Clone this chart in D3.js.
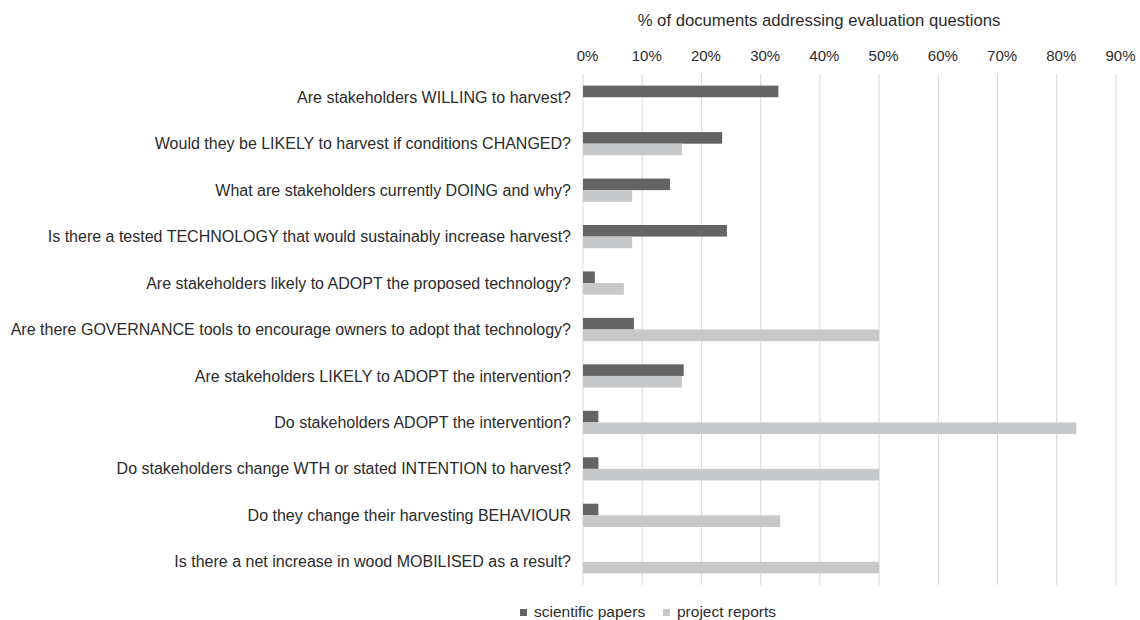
<!DOCTYPE html>
<html lang="en">
<head>
  <meta charset="UTF-8">
  <title>evaluation questions</title>
  <style>
    body { margin: 0; background: #fff; }
    svg { display: block; font-family: "Liberation Sans", Arial, sans-serif; }
  </style>
</head>
<body>
  <div class="chart"></div>
  <script src="https://cdnjs.cloudflare.com/ajax/libs/d3/7.8.5/d3.min.js"></script>
  <script>
    const questions = [
      "Are stakeholders WILLING to harvest?",
      "Would they be LIKELY to harvest if conditions CHANGED?",
      "What are stakeholders currently DOING and why?",
      "Is there a tested TECHNOLOGY that would sustainably increase harvest?",
      "Are stakeholders likely to ADOPT the proposed technology?",
      "Are there GOVERNANCE tools to encourage owners to adopt that technology?",
      "Are stakeholders LIKELY to ADOPT the intervention?",
      "Do stakeholders ADOPT the intervention?",
      "Do stakeholders change WTH or stated INTENTION to harvest?",
      "Do they change their harvesting BEHAVIOUR",
      "Is there a net increase in wood MOBILISED as a result?"
    ];
    const scientificPapers = [33.0, 23.5, 14.7, 24.3, 2.0, 8.6, 17.0, 2.6, 2.6, 2.6, 0];
    const projectReports   = [0, 16.7, 8.3, 8.3, 6.9, 50.0, 16.7, 83.3, 50.0, 33.3, 50.0];
    const seriesNames = ["scientific papers", "project reports"];
    const seriesColors = ["#646464", "#c7c8c9"];
    const ticks = [0, 10, 20, 30, 40, 50, 60, 70, 80, 90];

    const width = 1140, height = 620;
    const plotLeft = 583, plotRight = 1116, plotTop = 74, plotBottom = 585;
    const textColor = '#2b2b2b';

    const svg = d3.select('.chart').append('svg')
      .attr('width', width)
      .attr('height', height);

    const x = d3.scaleLinear().domain([0, 90]).range([plotLeft, plotRight]);
    const y = d3.scaleBand().domain(questions).range([plotTop, plotBottom]).paddingInner(0.5).paddingOuter(0.25);
    const ySub = d3.scaleBand().domain(seriesNames).range([0, y.bandwidth()]);

    // gridlines
    svg.append('g')
      .selectAll('line')
      .data(ticks)
      .join('line')
      .attr('x1', d => x(d)).attr('x2', d => x(d))
      .attr('y1', plotTop).attr('y2', plotBottom)
      .attr('stroke', '#d9d9d9')
      .attr('stroke-width', 1);

    // top axis labels
    const axis = svg.append('g')
      .attr('transform', `translate(4,${plotTop - 13})`)
      .call(d3.axisTop(x).tickValues(ticks).tickFormat(d => d + '%').tickSize(0).tickPadding(0));
    axis.select('.domain').remove();
    axis.selectAll('text')
      .attr('font-size', 15)
      .attr('fill', textColor)
      .attr('font-family', '"Liberation Sans", Arial, sans-serif');

    svg.append('text')
      .attr('x', 819)
      .attr('y', 26)
      .attr('text-anchor', 'middle')
      .attr('font-size', 16.7)
      .attr('fill', textColor)
      .text('% of documents addressing evaluation questions');

    // category labels
    svg.append('g')
      .selectAll('text')
      .data(questions)
      .join('text')
      .attr('x', plotLeft - 12)
      .attr('y', d => y(d) + y.bandwidth() / 2)
      .attr('dy', '0.35em')
      .attr('text-anchor', 'end')
      .attr('font-size', 16)
      .attr('fill', textColor)
      .text(d => d);

    const rows = questions.map((q, i) => ({ q, values: [scientificPapers[i], projectReports[i]] }));

    svg.append('g')
      .selectAll('g')
      .data(rows)
      .join('g')
      .attr('transform', d => `translate(0,${y(d.q)})`)
      .selectAll('rect')
      .data(d => d.values.map((v, i) => ({ v, i })))
      .join('rect')
      .attr('x', x(0))
      .attr('y', d => ySub(seriesNames[d.i]))
      .attr('width', d => x(d.v) - x(0))
      .attr('height', ySub.bandwidth())
      .attr('fill', d => seriesColors[d.i]);

    // legend
    const legend = svg.append('g').attr('transform', 'translate(520,612)');
    const legendX = [0, 143];
    seriesNames.forEach((name, i) => {
      legend.append('rect')
        .attr('x', legendX[i]).attr('y', -3)
        .attr('width', 7).attr('height', 7)
        .attr('fill', seriesColors[i]);
      legend.append('text')
        .attr('x', legendX[i] + 14).attr('y', 0)
        .attr('dy', '0.35em')
        .attr('font-size', 15.5)
        .attr('fill', textColor)
        .text(name);
    });
  </script>
</body>
</html>
